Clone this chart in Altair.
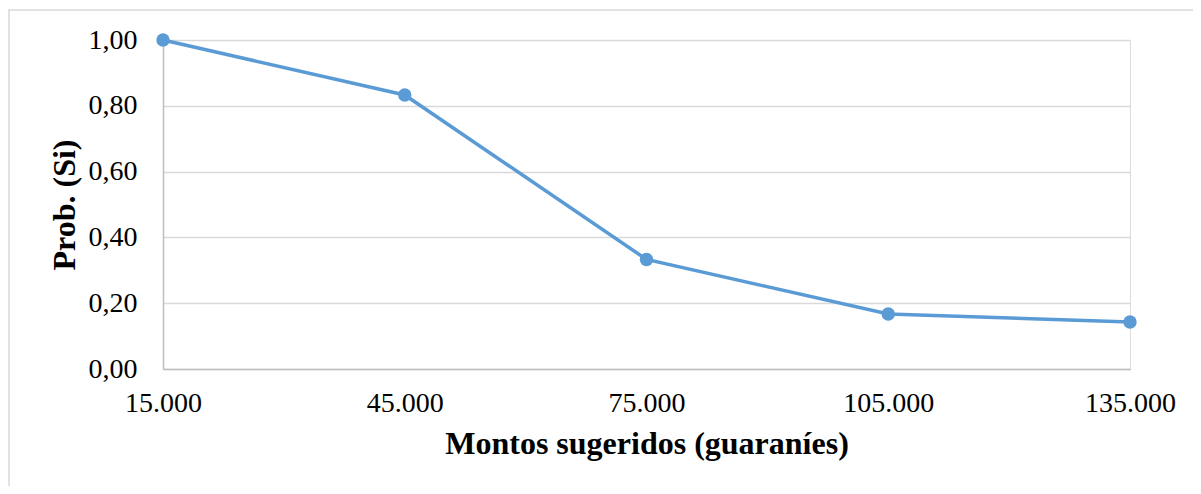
import altair as alt
import pandas as pd

montos = ["15.000", "45.000", "75.000", "105.000", "135.000"]
prob_si = [1.00, 0.833, 0.333, 0.167, 0.143]

df = pd.DataFrame({"monto": montos, "prob": prob_si})

FONT = "Liberation Serif"
BLUE = "#5b9bd5"

x_enc = alt.X(
    "monto:O",
    sort=montos,
    scale=alt.Scale(type="point", padding=0),
    axis=alt.Axis(
        title="Montos sugeridos (guaraníes)",
        labelAngle=0,
        labelFont=FONT,
        labelFontSize=28,
        labelColor="#000000",
        labelPadding=20,
        ticks=False,
        domainColor="#bfbfbf",
        domainWidth=1.5,
        titleFont=FONT,
        titleFontSize=32,
        titleFontWeight="bold",
        titleColor="#000000",
        titlePadding=11,
        grid=False,
    ),
)
y_enc = alt.Y(
    "prob:Q",
    scale=alt.Scale(domain=[0, 1], nice=False, zero=True),
    axis=alt.Axis(
        title="Prob. (Si)",
        values=[0, 0.2, 0.4, 0.6, 0.8, 1.0],
        labelExpr="replace(format(datum.value, '.2f'), '.', ',')",
        labelFont=FONT,
        labelFontSize=28,
        labelColor="#000000",
        labelPadding=26,
        ticks=False,
        domainColor="#bfbfbf",
        domainWidth=1.5,
        gridColor="#d9d9d9",
        gridWidth=1.5,
        titleFont=FONT,
        titleFontSize=32,
        titleFontWeight="bold",
        titleColor="#000000",
        titlePadding=7,
    ),
)

line = alt.Chart(df).mark_line(color=BLUE, strokeWidth=3.5).encode(x=x_enc, y=y_enc)
points = alt.Chart(df).mark_circle(color=BLUE, size=180, opacity=1).encode(x=x_enc, y=y_enc)

frame = alt.Chart(pd.DataFrame({"a": [0]})).mark_rect(
    fill=None, stroke="#d9d9d9", strokeWidth=1.5, clip=False
).encode(
    x=alt.value(-154), x2=alt.value(1100), y=alt.value(-30), y2=alt.value(500)
)

chart = alt.layer(frame, line, points).properties(
    width=967,
    height=329,
    autosize=alt.AutoSizeParams(type="none"),
    padding={"left": 155, "top": 32, "right": 63, "bottom": 117},
).configure_view(stroke=None).configure(background="white")

chart.save("out.html", embed_options={"renderer": "svg", "actions": False})
